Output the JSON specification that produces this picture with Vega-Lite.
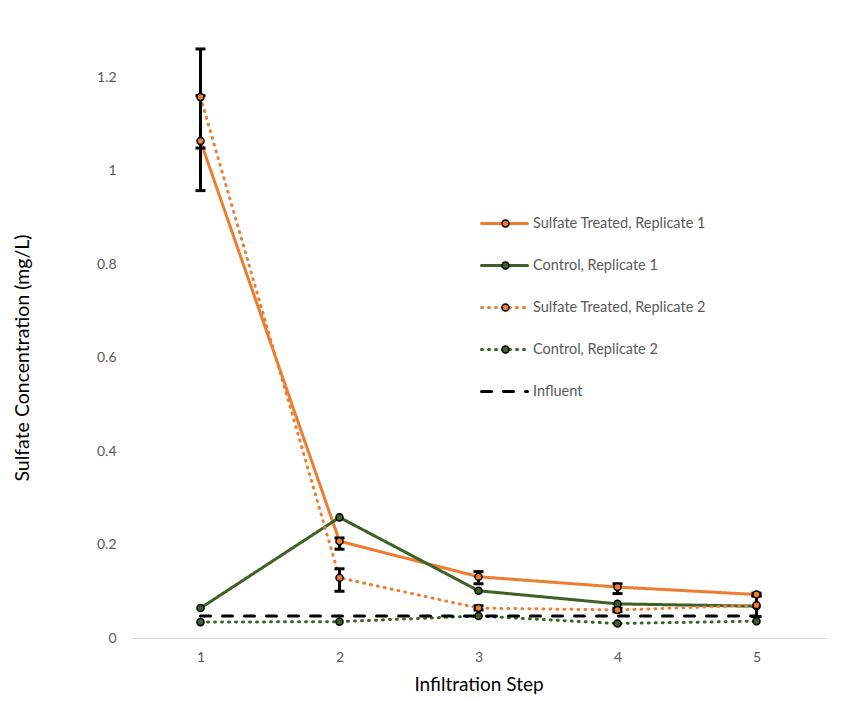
{
  "$schema": "https://vega.github.io/schema/vega-lite/v6.json",
  "width": 695,
  "height": 561,
  "autosize": {"type": "none"},
  "padding": {"left": 131, "top": 77, "right": 18, "bottom": 74},
  "background": "white",
  "config": {
    "font": "Lato",
    "view": {"stroke": null},
    "axis": {"labelColor": "#595959", "labelFontSize": 14, "titleColor": "#000000", "titleFontSize": 19, "titleFontWeight": "normal", "grid": false, "ticks": false}
  },
  "datasets": {
    "series": [
      {"step": 1, "series": "Sulfate Treated, Replicate 1", "value": 1.063},
      {"step": 2, "series": "Sulfate Treated, Replicate 1", "value": 0.207},
      {"step": 3, "series": "Sulfate Treated, Replicate 1", "value": 0.131},
      {"step": 4, "series": "Sulfate Treated, Replicate 1", "value": 0.109},
      {"step": 5, "series": "Sulfate Treated, Replicate 1", "value": 0.093},
      {"step": 1, "series": "Control, Replicate 1", "value": 0.064},
      {"step": 2, "series": "Control, Replicate 1", "value": 0.258},
      {"step": 3, "series": "Control, Replicate 1", "value": 0.101},
      {"step": 4, "series": "Control, Replicate 1", "value": 0.073},
      {"step": 5, "series": "Control, Replicate 1", "value": 0.068},
      {"step": 1, "series": "Sulfate Treated, Replicate 2", "value": 1.157},
      {"step": 2, "series": "Sulfate Treated, Replicate 2", "value": 0.129},
      {"step": 3, "series": "Sulfate Treated, Replicate 2", "value": 0.064},
      {"step": 4, "series": "Sulfate Treated, Replicate 2", "value": 0.06},
      {"step": 5, "series": "Sulfate Treated, Replicate 2", "value": 0.07},
      {"step": 1, "series": "Control, Replicate 2", "value": 0.034},
      {"step": 2, "series": "Control, Replicate 2", "value": 0.035},
      {"step": 3, "series": "Control, Replicate 2", "value": 0.047},
      {"step": 4, "series": "Control, Replicate 2", "value": 0.031},
      {"step": 5, "series": "Control, Replicate 2", "value": 0.036},
      {"step": 1, "series": "Influent", "value": 0.047},
      {"step": 2, "series": "Influent", "value": 0.047},
      {"step": 3, "series": "Influent", "value": 0.047},
      {"step": 4, "series": "Influent", "value": 0.047},
      {"step": 5, "series": "Influent", "value": 0.047}
    ],
    "errors": [
      {"step": 1, "series": "Sulfate Treated, Replicate 1", "lo": 0.957, "hi": 1.16},
      {"step": 2, "series": "Sulfate Treated, Replicate 1", "lo": 0.19, "hi": 0.214},
      {"step": 3, "series": "Sulfate Treated, Replicate 1", "lo": 0.116, "hi": 0.142},
      {"step": 4, "series": "Sulfate Treated, Replicate 1", "lo": 0.095, "hi": 0.116},
      {"step": 5, "series": "Sulfate Treated, Replicate 1", "lo": 0.09, "hi": 0.096},
      {"step": 1, "series": "Sulfate Treated, Replicate 2", "lo": 1.048, "hi": 1.26},
      {"step": 2, "series": "Sulfate Treated, Replicate 2", "lo": 0.1, "hi": 0.148},
      {"step": 3, "series": "Sulfate Treated, Replicate 2", "lo": 0.06, "hi": 0.069},
      {"step": 4, "series": "Sulfate Treated, Replicate 2", "lo": 0.056, "hi": 0.064},
      {"step": 5, "series": "Sulfate Treated, Replicate 2", "lo": 0.046, "hi": 0.09}
    ]
  },
  "layer": [
    {
      "data": {"name": "series"},
      "mark": {"type": "line", "strokeWidth": 3, "strokeCap": "round", "clip": false},
      "encoding": {
        "x": {"field": "step", "type": "ordinal", "scale": {"type": "point", "padding": 0.5},
          "axis": {"title": "Infiltration Step", "labelAngle": 0, "domainColor": "#D9D9D9", "domainWidth": 1, "labelPadding": 12, "titlePadding": 11}},
        "y": {"field": "value", "type": "quantitative", "scale": {"domain": [0, 1.2], "nice": false},
          "axis": {"title": "Sulfate Concentration (mg/L)", "titleFontSize": 19.5, "domain": false, "values": [0, 0.2, 0.4, 0.6, 0.8, 1, 1.2], "format": "~g", "labelPadding": 15, "titlePadding": 64}},
        "color": {"field": "series", "type": "nominal",
          "scale": {"domain": ["Sulfate Treated, Replicate 1", "Control, Replicate 1", "Sulfate Treated, Replicate 2", "Control, Replicate 2", "Influent"],
            "range": ["#ED7D31", "#3E6125", "#ED7D31", "#3E6125", "#000000"]},
          "legend": {"title": null, "orient": "none", "legendX": 349, "legendY": 122, "symbolType": "stroke", "symbolSize": 2116, "symbolStrokeWidth": 3, "labelFontSize": 14.5, "labelLimit": 400, "labelColor": "#595959", "labelOffset": 4, "rowPadding": 11,
            "encode": {"symbols": {"update": {"strokeCap": {"value": "round"}}}}}},
        "strokeDash": {"field": "series", "type": "nominal",
          "scale": {"domain": ["Sulfate Treated, Replicate 1", "Control, Replicate 1", "Sulfate Treated, Replicate 2", "Control, Replicate 2", "Influent"],
            "range": [[1, 0], [1, 0], [1, 6], [1, 6], [10, 12]]},
          "legend": {"title": null, "orient": "none", "legendX": 349, "legendY": 122, "symbolType": "stroke", "symbolSize": 2116, "symbolStrokeWidth": 3, "labelFontSize": 14.5, "labelLimit": 400, "labelColor": "#595959", "labelOffset": 4, "rowPadding": 11,
            "encode": {"symbols": {"update": {"strokeCap": {"value": "round"}}}}}}
      }
    },
    {
      "data": {"name": "errors"},
      "mark": {"type": "rule", "color": "black", "strokeWidth": 3, "clip": false},
      "encoding": {
        "x": {"field": "step", "type": "ordinal"},
        "y": {"field": "lo", "type": "quantitative"},
        "y2": {"field": "hi"}
      }
    },
    {
      "data": {"name": "errors"},
      "mark": {"type": "tick", "color": "black", "thickness": 3, "size": 10, "opacity": 1, "clip": false},
      "encoding": {
        "x": {"field": "step", "type": "ordinal"},
        "y": {"field": "lo", "type": "quantitative"}
      }
    },
    {
      "data": {"name": "errors"},
      "mark": {"type": "tick", "color": "black", "thickness": 3, "size": 10, "opacity": 1, "clip": false},
      "encoding": {
        "x": {"field": "step", "type": "ordinal"},
        "y": {"field": "hi", "type": "quantitative"}
      }
    },
    {
      "data": {"name": "series"},
      "transform": [{"filter": "datum.series !== 'Influent'"}],
      "mark": {"type": "point", "filled": true, "size": 50, "stroke": "black", "strokeWidth": 1.5, "opacity": 1, "clip": false},
      "encoding": {
        "x": {"field": "step", "type": "ordinal"},
        "y": {"field": "value", "type": "quantitative"},
        "fill": {"field": "series", "type": "nominal",
          "scale": {"domain": ["Sulfate Treated, Replicate 1", "Control, Replicate 1", "Sulfate Treated, Replicate 2", "Control, Replicate 2"],
            "range": ["#ED7D31", "#3E6125", "#ED7D31", "#3E6125"]},
          "legend": {"title": null, "orient": "none", "legendX": 368, "legendY": 140, "symbolType": "circle", "symbolSize": 50, "symbolStrokeColor": "black", "symbolStrokeWidth": 1.5, "labelExpr": "''", "labelFontSize": 13, "rowPadding": 27}}
      }
    }
  ]
}
